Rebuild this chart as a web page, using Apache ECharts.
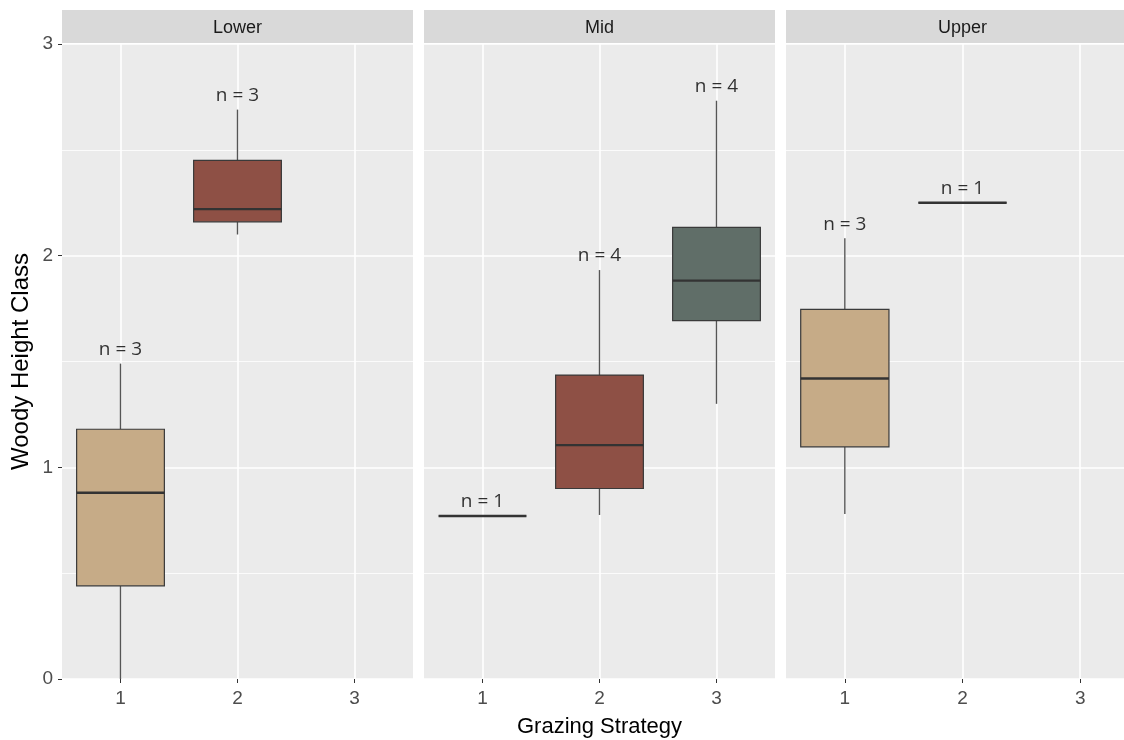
<!DOCTYPE html>
<html>
<head>
<meta charset="utf-8">
<script src="https://cdn.jsdelivr.net/npm/echarts@6/dist/echarts.min.js"></script>
<style>
  html, body { margin: 0; padding: 0; background: #ffffff; }
  #chart { width: 1124px; height: 740px; }
</style>
</head>
<body>
<div id="chart"></div>
<script>
// Facets and categories
const panels = ['Lower', 'Mid', 'Upper'];
const strategies = ['1', '2', '3'];
const yTicks = [0, 1, 2, 3];

// Box summaries per facet, one entry per grazing strategy:
// [min, q1, median, q3, max]  (null = no observations)
const lowerStats = [
  [0.00, 0.44, 0.88, 1.18, 1.49],
  [2.10, 2.16, 2.22, 2.45, 2.69],
  null
];
const midStats = [
  [0.77, 0.77, 0.77, 0.77, 0.77],
  [0.775, 0.90, 1.105, 1.436, 1.932],
  [1.30, 1.693, 1.882, 2.134, 2.732]
];
const upperStats = [
  [0.78, 1.097, 1.42, 1.746, 2.082],
  [2.25, 2.25, 2.25, 2.25, 2.25],
  null
];

// Sample sizes shown above each box
const lowerN = [3, 3, null];
const midN = [1, 4, 4];
const upperN = [3, 1, null];

// Fill colour per grazing strategy
const fillColors = ['#C6AB87', '#8E5045', '#606E68'];

const statsByPanel = [lowerStats, midStats, upperStats];
const nByPanel = [lowerN, midN, upperN];

const AXIS_FONT = '"Liberation Sans", Arial, sans-serif';
const LABEL_FONT = '"Open Sans", "Noto Sans", sans-serif';

// Panel frame geometry (pixels); the last panel runs past the right edge
const panelLeft = [62, 424, 786];
const panelWidth = [351, 351, 353];
const panelTop = 44;
const panelHeight = 635;
const stripTop = 10;
const stripHeight = 33;

function renderBox(params, api) {
  const idx = api.value(0);
  const vMin = api.value(1), q1 = api.value(2), med = api.value(3), q3 = api.value(4), vMax = api.value(5);
  const color = fillColors[idx];
  const bw = api.size([1, 0])[0] * 0.75;
  const pMin = api.coord([idx, vMin]);
  const pQ1 = api.coord([idx, q1]);
  const pMed = api.coord([idx, med]);
  const pQ3 = api.coord([idx, q3]);
  const pMax = api.coord([idx, vMax]);
  const cx = pMed[0];
  const whisker = { stroke: '#555555', lineWidth: 1.4 };
  return {
    type: 'group',
    children: [
      { type: 'line', shape: { x1: cx, y1: pQ3[1], x2: cx, y2: pMax[1] }, style: whisker },
      { type: 'line', shape: { x1: cx, y1: pQ1[1], x2: cx, y2: pMin[1] }, style: whisker },
      {
        type: 'rect',
        shape: { x: cx - bw / 2, y: pQ3[1], width: bw, height: pQ1[1] - pQ3[1] },
        style: { fill: color, stroke: '#3a3a3a', lineWidth: 1.2 }
      },
      {
        type: 'line',
        shape: { x1: cx - bw / 2, y1: pMed[1], x2: cx + bw / 2, y2: pMed[1] },
        style: { stroke: '#333333', lineWidth: 2.4 }
      }
    ]
  };
}

const grids = [], xAxes = [], yAxes = [], series = [], graphics = [];

panels.forEach(function (name, p) {
  grids.push({
    left: panelLeft[p], top: panelTop, width: panelWidth[p], height: panelHeight,
    outerBoundsMode: 'none', containLabel: false,
    show: true, backgroundColor: '#EBEBEB', borderWidth: 0
  });

  xAxes.push({
    type: 'category', gridIndex: p, data: strategies, boundaryGap: true,
    name: p === 1 ? 'Grazing Strategy' : '',
    nameLocation: 'middle', nameGap: 37,
    nameTextStyle: { fontFamily: AXIS_FONT, fontSize: 22, color: '#000000' },
    axisLine: { show: false },
    axisTick: { show: true, alignWithLabel: true, length: 4, lineStyle: { color: '#333333', width: 1 } },
    axisLabel: { fontFamily: AXIS_FONT, fontSize: 19, color: '#4D4D4D', margin: 10 },
    splitLine: { show: true, alignWithLabel: true, lineStyle: { color: '#FFFFFF', width: 1.6 } }
  });

  yAxes.push({
    type: 'value', gridIndex: p, min: yTicks[0], max: yTicks[yTicks.length - 1], interval: 1,
    name: p === 0 ? 'Woody Height Class' : '',
    nameLocation: 'middle', nameGap: 29,
    nameTextStyle: { fontFamily: AXIS_FONT, fontSize: 24, color: '#000000' },
    axisLine: { show: false },
    axisTick: { show: p === 0, length: 4, lineStyle: { color: '#333333', width: 1 } },
    axisLabel: { show: p === 0, fontFamily: AXIS_FONT, fontSize: 19, color: '#4D4D4D', margin: 9 },
    splitLine: { show: true, lineStyle: { color: '#FFFFFF', width: 1.6 } },
    minorTick: { show: false, splitNumber: 2 },
    minorSplitLine: { show: true, lineStyle: { color: '#FFFFFF', width: 0.8 } }
  });

  const boxData = [], labelData = [];
  statsByPanel[p].forEach(function (s, i) {
    if (!s) return;
    boxData.push([i].concat(s));
    labelData.push({ value: [i, s[4]], n: nByPanel[p][i] });
  });

  series.push({
    type: 'custom', xAxisIndex: p, yAxisIndex: p, z: 3,
    renderItem: renderBox,
    encode: { x: 0, y: [1, 2, 3, 4, 5] },
    data: boxData,
    silent: true
  });

  series.push({
    type: 'scatter', xAxisIndex: p, yAxisIndex: p, z: 4,
    symbolSize: 1, itemStyle: { color: 'rgba(0,0,0,0)' },
    data: labelData,
    silent: true,
    label: {
      show: true, position: 'top', distance: 4,
      fontFamily: LABEL_FONT, fontSize: 19, color: '#000000',
      formatter: function (d) { return 'n = ' + d.data.n; }
    }
  });

  // Facet strip
  graphics.push({
    type: 'rect', silent: true, z: 0,
    shape: { x: panelLeft[p], y: stripTop, width: panelWidth[p], height: stripHeight },
    style: { fill: '#D9D9D9' }
  });
  graphics.push({
    type: 'text', silent: true, z: 1,
    x: panelLeft[p] + panelWidth[p] / 2, y: stripTop + stripHeight / 2 + 2,
    style: {
      text: name, align: 'center', verticalAlign: 'middle',
      fontFamily: AXIS_FONT, fontSize: 18, fill: '#1A1A1A'
    }
  });
});

const chart = echarts.init(document.getElementById('chart'), null, { renderer: 'canvas' });
chart.setOption({
  animation: false,
  backgroundColor: '#FFFFFF',
  grid: grids,
  xAxis: xAxes,
  yAxis: yAxes,
  series: series,
  graphic: graphics
});
</script>
</body>
</html>
